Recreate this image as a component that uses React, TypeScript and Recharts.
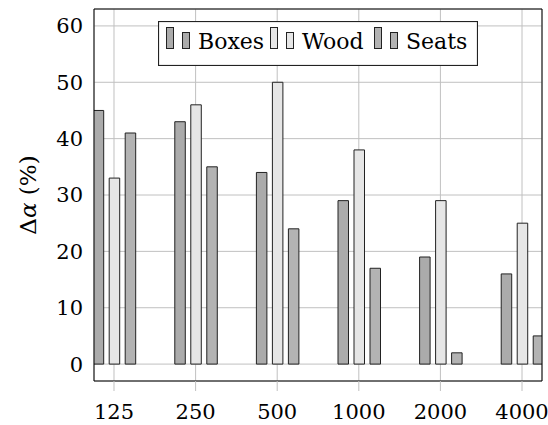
import { BarChart, Bar, XAxis, YAxis, CartesianGrid, Legend } from 'recharts';

const categories = ['125', '250', '500', '1000', '2000', '4000'];
const boxes = [45, 43, 34, 29, 19, 16];
const wood = [33, 46, 50, 38, 29, 25];
const seats = [41, 35, 24, 17, 2, 5];
const yTicks = [0, 10, 20, 30, 40, 50, 60];

const data = categories.map((c, i) => ({ idx: i, label: c, boxes: boxes[i], wood: wood[i], seats: seats[i] }));

// only DejaVu Serif is a real serif face in the sandbox
const FONT = 'DejaVu Serif';
const GRID = '#c0c0c0';
const series = [
  { key: 'boxes', name: 'Boxes', fill: '#ababab' },
  { key: 'wood', name: 'Wood', fill: '#e6e6e6' },
  { key: 'seats', name: 'Seats', fill: '#b3b3b3' },
];

const xDomain = [-0.245, 5.245];

function LegendBox() {
  // entry offsets inside the box
  const starts = [8, 112, 216];
  return (
    <svg width={320} height={45} style={{ display: 'block' }}>
      <rect x={0.5} y={0.5} width={319} height={44} fill="#fff" stroke="#222" strokeWidth={1.2} />
      {series.map((s, i) => (
        <g key={s.key} transform={`translate(${starts[i]},0)`}>
          <rect x={0.5} y={6.5} width={7} height={21} fill={s.fill} stroke="#222" />
          <rect x={16.5} y={11.5} width={7} height={16} fill={s.fill} stroke="#222" />
          <text x={32} y={28} fontSize={22} fontFamily={FONT} fill="#000">
            {s.name}
          </text>
        </g>
      ))}
    </svg>
  );
}

function YLabel({ viewBox }: any) {
  const cx = 28;
  const cy = viewBox.y + viewBox.height / 2;
  return (
    <text
      x={cx}
      y={cy}
      transform={`rotate(-90, ${cx}, ${cy})`}
      textAnchor="middle"
      dominantBaseline="central"
      fontSize={23}
      fontFamily={FONT}
      fill="#000"
    >
      Δ<tspan fontStyle="italic">α</tspan> (%)
    </text>
  );
}

const tickStyle = { fontSize: 21, fill: '#000', fontFamily: FONT };

export default function App() {
  return (
    <div style={{ position: 'absolute', left: 0, top: 0, width: 548, height: 425, background: '#fff' }}>
      <BarChart
        width={548}
        height={425}
        data={data}
        margin={{ top: 0, right: 5, bottom: 0, left: 0 }}
        barSize={10.5}
        barGap={5.5}
      >
        <CartesianGrid stroke={GRID} strokeWidth={1} />
        <XAxis
          xAxisId="top"
          orientation="top"
          type="number"
          dataKey="idx"
          domain={xDomain}
          ticks={[0, 1, 2, 3, 4, 5]}
          allowDataOverflow
          height={9}
          tick={false}
          tickSize={9}
          tickLine={{ stroke: GRID }}
          axisLine={{ stroke: '#000' }}
        />
        <XAxis
          type="number"
          dataKey="idx"
          domain={xDomain}
          ticks={[0, 1, 2, 3, 4, 5]}
          allowDataOverflow
          height={44}
          tickSize={10}
          tickMargin={13}
          tickFormatter={(v) => categories[v]}
          tick={tickStyle}
          tickLine={{ stroke: GRID }}
          axisLine={{ stroke: '#000' }}
        />
        <YAxis
          domain={[-3, 63]}
          ticks={yTicks}
          allowDataOverflow
          width={94}
          tickLine={false}
          tickSize={6}
          tickMargin={5}
          tick={tickStyle}
          axisLine={{ stroke: '#000' }}
          label={<YLabel />}
        />
        <YAxis
          yAxisId="right"
          orientation="right"
          domain={[-3, 63]}
          ticks={yTicks}
          width={1}
          tick={false}
          tickLine={false}
          axisLine={{ stroke: '#000' }}
        />
        <Legend
          layout="horizontal"
          verticalAlign="middle"
          align="center"
          wrapperStyle={{ top: 21, left: 158, width: 320, height: 45 }}
          content={() => <LegendBox />}
        />
        {series.map((s) => (
          <Bar key={s.key} dataKey={s.key} name={s.name} fill={s.fill} stroke="#222" strokeWidth={1} isAnimationActive={false} />
        ))}
      </BarChart>
    </div>
  );
}
